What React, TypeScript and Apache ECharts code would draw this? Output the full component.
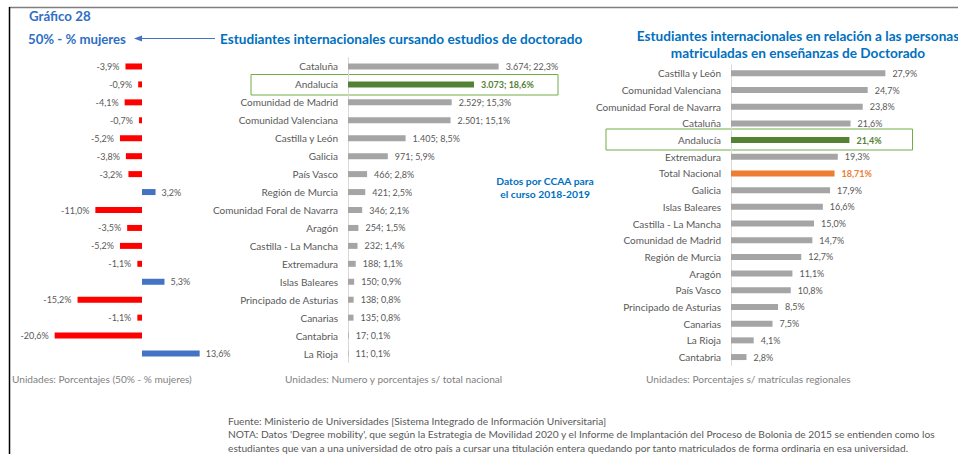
import React, { useEffect, useRef } from "react";
import * as echarts from "echarts";

// ---- Data ----
const regionsMid = [
  "Cataluña", "Andalucía", "Comunidad de Madrid", "Comunidad Valenciana", "Castilla y León",
  "Galicia", "País Vasco", "Región de Murcia", "Comunidad Foral de Navarra", "Aragón",
  "Castilla - La Mancha", "Extremadura", "Islas Baleares", "Principado de Asturias",
  "Canarias", "Cantabria", "La Rioja",
];
const studentCounts = [3674, 3073, 2529, 2501, 1405, 971, 466, 421, 346, 254, 232, 188, 150, 138, 135, 17, 11];
const studentShares = [22.3, 18.6, 15.3, 15.1, 8.5, 5.9, 2.8, 2.5, 2.1, 1.5, 1.4, 1.1, 0.9, 0.8, 0.8, 0.1, 0.1];
const genderGap = [-3.9, -0.9, -4.1, -0.7, -5.2, -3.8, -3.2, 3.2, -11.0, -3.5, -5.2, -1.1, 5.3, -15.2, -1.1, -20.6, 13.6];

const regionsRight = [
  "Castilla y León", "Comunidad Valenciana", "Comunidad Foral de Navarra", "Cataluña", "Andalucía",
  "Extremadura", "Total Nacional", "Galicia", "Islas Baleares", "Castilla - La Mancha",
  "Comunidad de Madrid", "Región de Murcia", "Aragón", "País Vasco", "Principado de Asturias",
  "Canarias", "La Rioja", "Cantabria",
];
const regionalShares = [27.9, 24.7, 23.8, 21.6, 21.4, 19.3, 18.71, 17.9, 16.6, 15.0, 14.7, 12.7, 11.1, 10.8, 8.5, 7.5, 4.1, 2.8];

const FONT = "Lato, 'Liberation Sans', sans-serif";
const GRAY_TXT = "#595959";
const BAR_GRAY = "#a5a5a5";
const GREEN = "#548235";
const ORANGE = "#ed7d31";
const TITLE_BLUE = "#0070c0";
const BLUE2 = "#2f6fc4";

function fmtPct(v: number): string {
  const dec = Math.round(v * 10) === v * 10 ? 1 : 2;
  return v.toFixed(dec).replace(".", ",") + "%";
}
function fmtThousands(n: number): string {
  return String(n).replace(/\B(?=(\d{3})+(?!\d))/g, ".");
}

export default function App() {
  const ref = useRef<HTMLDivElement>(null);
  useEffect(() => {
    if (!ref.current) return;
    const chart = echarts.init(ref.current, undefined, { renderer: "svg" });

    const leftData = genderGap.map((v) => ({
      value: v,
      itemStyle: { color: v < 0 ? "#ff0000" : "#4472c4" },
      label: { position: v < 0 ? "left" : "right" },
    }));
    const midData = studentCounts.map((v, i) => {
      const hl = regionsMid[i] === "Andalucía";
      return {
        value: v,
        itemStyle: { color: hl ? GREEN : BAR_GRAY },
        label: hl ? { color: GREEN, fontWeight: "bold" } : {},
      };
    });
    const rightData = regionalShares.map((v, i) => {
      const name = regionsRight[i];
      const col = name === "Andalucía" ? GREEN : name === "Total Nacional" ? ORANGE : null;
      return {
        value: v,
        itemStyle: { color: col || BAR_GRAY },
        label: col ? { color: col, fontWeight: "bold" } : {},
      };
    });

    const txt = (x: number, y: number, text: string, o: any = {}) => ({
      type: "text",
      x,
      y,
      style: {
        text,
        fill: o.fill || GRAY_TXT,
        fontSize: o.fontSize || 10,
        fontWeight: o.fontWeight || "normal",
        fontFamily: FONT,
        textAlign: o.align || "left",
        textVerticalAlign: "middle",
      },
    });

    chart.setOption({
      animation: false,
      backgroundColor: "#ffffff",
      textStyle: { fontFamily: FONT },
      grid: [
        { left: 142 - 25 * 4.24, width: 40 * 4.24, top: 57.5, height: 305, containLabel: false },
        { left: 348, width: 164, top: 57.5, height: 305, containLabel: false },
        { left: 731, width: 166, top: 65, height: 300.4, containLabel: false },
      ],
      xAxis: [
        { gridIndex: 0, type: "value", min: -25, max: 15, show: false },
        { gridIndex: 1, type: "value", min: 0, max: 4000, show: false },
        { gridIndex: 2, type: "value", min: 0, max: 30, show: false },
      ],
      yAxis: [
        { gridIndex: 0, type: "category", data: regionsMid, inverse: true, show: false },
        {
          gridIndex: 1, type: "category", data: regionsMid, inverse: true,
          axisLine: { show: true, lineStyle: { color: "#d9d9d9", width: 1 } },
          axisTick: { show: false },
          axisLabel: { color: GRAY_TXT, fontSize: 10, margin: 10, fontFamily: FONT },
        },
        {
          gridIndex: 2, type: "category", data: regionsRight, inverse: true,
          axisLine: { show: true, lineStyle: { color: "#d9d9d9", width: 1 } },
          axisTick: { show: false },
          axisLabel: { color: GRAY_TXT, fontSize: 10, margin: 10, fontFamily: FONT },
        },
      ],
      series: [
        {
          type: "bar", xAxisIndex: 0, yAxisIndex: 0, data: leftData, barWidth: 6,
          label: {
            show: true, distance: 6, color: GRAY_TXT, fontSize: 9, fontFamily: FONT,
            formatter: (p: any) => fmtPct(p.value),
          },
        },
        {
          type: "bar", xAxisIndex: 1, yAxisIndex: 1, data: midData, barWidth: 6,
          label: {
            show: true, position: "right", distance: 7, color: GRAY_TXT, fontSize: 9, fontFamily: FONT,
            formatter: (p: any) => fmtThousands(p.value) + "; " + fmtPct(studentShares[p.dataIndex]),
          },
        },
        {
          type: "bar", xAxisIndex: 2, yAxisIndex: 2, data: rightData, barWidth: 6,
          label: {
            show: true, position: "right", distance: 7, color: GRAY_TXT, fontSize: 9, fontFamily: FONT,
            formatter: (p: any) => fmtPct(p.value),
          },
        },
      ],
      graphic: [
        { type: "line", shape: { x1: 9, y1: 7.5, x2: 958, y2: 7.5 }, style: { stroke: "#7f7f7f", lineWidth: 1.5 } },
        { type: "line", shape: { x1: 9.5, y1: 7, x2: 9.5, y2: 454 }, style: { stroke: "#000000", lineWidth: 1.5 } },
        txt(29, 16, "Gráfico 28", { fill: BLUE2, fontSize: 13.3, fontWeight: "bold" }),
        txt(28, 38.5, "50% - % mujeres", { fill: BLUE2, fontSize: 13.2, fontWeight: "bold" }),
        { type: "line", shape: { x1: 139, y1: 38.5, x2: 215, y2: 38.5 }, style: { stroke: "#4472c4", lineWidth: 1.2 } },
        { type: "polygon", shape: { points: [[134, 38.5], [142, 35.5], [142, 41.5]] }, style: { fill: "#4472c4" } },
        txt(220, 38.5, "Estudiantes internacionales cursando estudios de doctorado", { fill: TITLE_BLUE, fontSize: 13.6, fontWeight: "bold" }),
        txt(798, 36, "Estudiantes internacionales en relación a las personas", { fill: TITLE_BLUE, fontSize: 13.6, fontWeight: "bold", align: "center" }),
        txt(798, 53, "matriculadas en enseñanzas de Doctorado", { fill: TITLE_BLUE, fontSize: 13.6, fontWeight: "bold", align: "center" }),
        txt(545, 181, "Datos por CCAA para", { fill: TITLE_BLUE, fontSize: 10.3, fontWeight: "bold", align: "center" }),
        txt(545, 194, "el curso 2018-2019", { fill: TITLE_BLUE, fontSize: 10.3, fontWeight: "bold", align: "center" }),
        { type: "rect", shape: { x: 251, y: 74.5, width: 307, height: 20.5 }, style: { fill: "none", stroke: "#70ad47", lineWidth: 1 } },
        { type: "rect", shape: { x: 606, y: 129, width: 306.5, height: 21 }, style: { fill: "none", stroke: "#70ad47", lineWidth: 1 } },
        txt(12, 378.5, "Unidades: Porcentajes (50% - % mujeres)", { fill: "#7f7f7f", fontSize: 10.1 }),
        txt(285, 378.5, "Unidades: Numero y porcentajes s/ total nacional", { fill: "#7f7f7f", fontSize: 10.1 }),
        txt(646, 378.5, "Unidades: Porcentajes s/ matrículas regionales", { fill: "#7f7f7f", fontSize: 10.1 }),
        txt(228, 420.5, "Fuente: Ministerio de Universidades [Sistema Integrado de Información Universitaria]", { fill: GRAY_TXT, fontSize: 10.2 }),
        txt(228, 434, "NOTA: Datos 'Degree mobility', que según la Estrategia de Movilidad 2020 y el Informe de Implantación del Proceso de Bolonia de 2015 se entienden como los", { fill: GRAY_TXT, fontSize: 10.2 }),
        txt(228, 447.5, "estudiantes que van a una universidad de otro país a cursar una titulación entera quedando por tanto matriculados de forma ordinaria en esa universidad.", { fill: GRAY_TXT, fontSize: 10.2 }),
      ],
    });
    return () => chart.dispose();
  }, []);
  return (
    <div
      ref={ref}
      style={{ position: "absolute", left: 0, top: 0, width: 958, height: 454, background: "#fff" }}
    />
  );
}
